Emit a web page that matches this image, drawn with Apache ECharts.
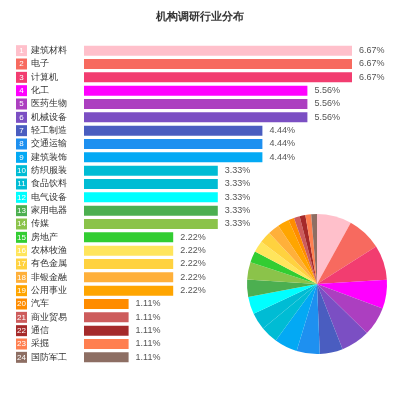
<!DOCTYPE html>
<html><head><meta charset="utf-8">
<script src="https://cdn.jsdelivr.net/npm/echarts@6/dist/echarts.min.js"></script>
<style>html,body{margin:0;padding:0;background:#fff}#c{width:400px;height:400px}</style>
</head><body><div id="c"></div>
<script>
var categories = ['建筑材料','电子','计算机','化工','医药生物','机械设备','轻工制造','交通运输','建筑装饰','纺织服装','食品饮料','电气设备','家用电器','传媒','房地产','农林牧渔','有色金属','非银金融','公用事业','汽车','商业贸易','通信','采掘','国防军工'];
var values = [6.67,6.67,6.67,5.56,5.56,5.56,4.44,4.44,4.44,3.33,3.33,3.33,3.33,3.33,2.22,2.22,2.22,2.22,2.22,1.11,1.11,1.11,1.11,1.11];
var colors = ['#ffc0cb','#f76a5f','#f23d70','#ff00ff','#ac3fc0','#7b4fc3','#4a5dc0','#1e90f0','#03a9f4','#00bcd4','#00bcd4','#00ffff','#4caf50','#8bc34a','#32cd32','#ffe55c','#ffd23f','#ffb03a','#ffa500','#ff8c00','#cd5c5c','#a52a2a','#ff7f50','#8d6e63'];

var rich = { n: { color: '#333', fontSize: 9, padding: [0,0,0,4] } };
colors.forEach(function(c, i){
  rich['b'+i] = { backgroundColor: c, color: '#fff', width: 11, height: 11, align: 'center', fontSize: 8, lineHeight: 11 };
});

var chart = echarts.init(document.getElementById('c'));
chart.setOption({
  animation: false,
  title: { text: '机构调研行业分布', left: 'center', top: 6, textStyle: { fontSize: 11, fontWeight: 'bold', color: '#333' } },
  grid: { left: 84, right: 48, top: 44, bottom: 36 },
  xAxis: { type: 'value', min: 0, max: 6.67, show: false },
  yAxis: {
    type: 'category', inverse: true, data: categories,
    axisLine: { show: false }, axisTick: { show: false },
    axisLabel: {
      interval: 0, align: 'left', margin: 68,
      formatter: function(v, i){ return '{b'+i+'|'+(i+1)+'}{n|'+v+'}'; },
      rich: rich
    }
  },
  series: [
    {
      type: 'bar', barWidth: 10,
      data: values.map(function(v,i){ return { value: v, itemStyle: { color: colors[i] } }; }),
      label: { show: true, position: 'right', distance: 7, formatter: '{c}%', fontSize: 9, color: '#555' }
    },
    {
      type: 'pie', center: [317, 284], radius: 70, label: { show: false }, labelLine: { show: false },
      data: values.map(function(v,i){ return { name: categories[i], value: v, itemStyle: { color: colors[i] } }; })
    }
  ]
});
</script></body></html>
